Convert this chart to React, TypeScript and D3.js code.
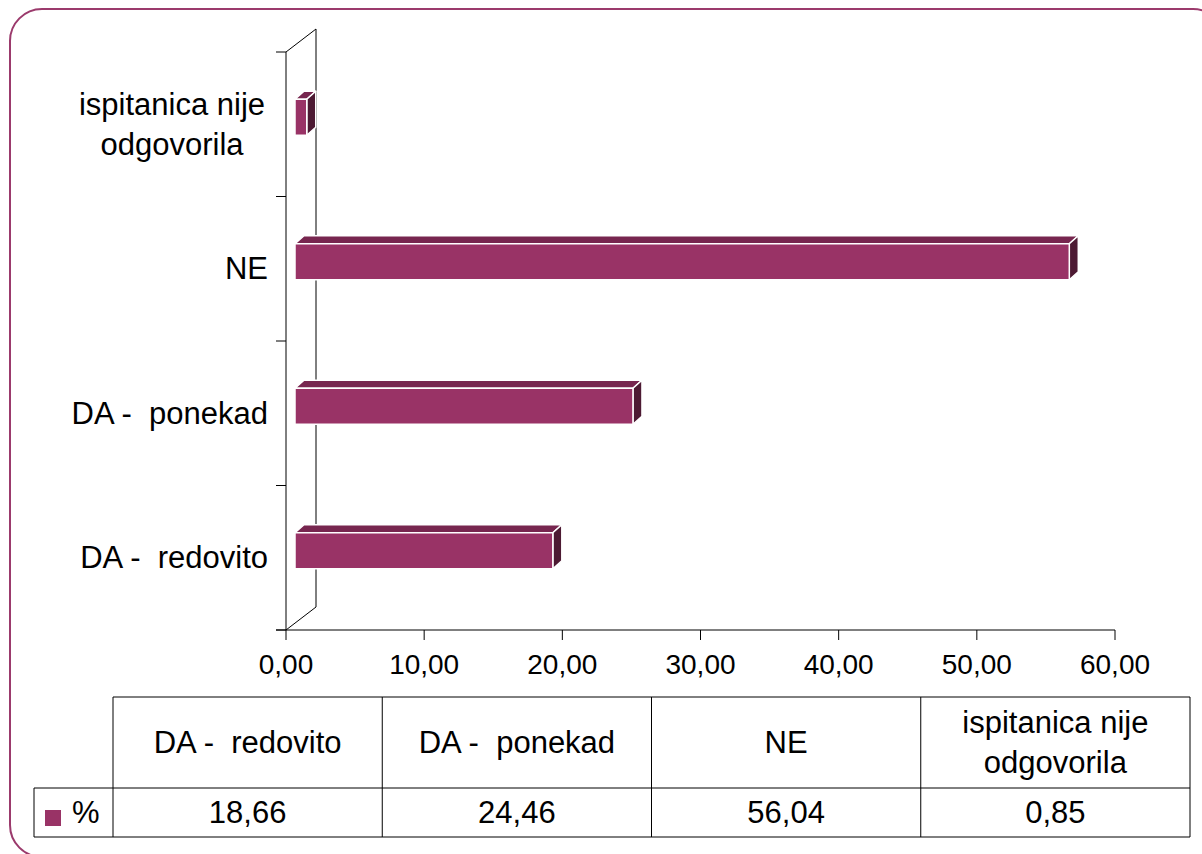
import React from "react";
import * as d3 from "d3";

const categories: string[][] = [
  ["DA -  redovito"],
  ["DA -  ponekad"],
  ["NE"],
  ["ispitanica nije", "odgovorila"],
];
const values: number[] = [18.66, 24.46, 56.04, 0.85];
const xTicks: number[] = [0, 10, 20, 30, 40, 50, 60];
const seriesName = "%";

const W = 1202;
const H = 854;
const FONT = "'Liberation Sans', Arial, sans-serif";
const FS = 31;
const FS_TICK = 28;
const PLUM = "#993366";
const PLUM_TOP = "#77264f";
const PLUM_SIDE = "#4d1a33";

const fmt = (v: number) => d3.format(".2f")(v).replace(".", ",");

export default function App() {
  const x = d3.scaleLinear().domain([0, 60]).range([286, 1115]);
  const y = d3
    .scaleBand<number>()
    .domain(d3.range(categories.length))
    .range([630, 52])
    .paddingInner(0)
    .paddingOuter(0);

  // 3D depth
  const wallDx = 30;
  const wallDy = -23;
  const barOffX = 9;
  const barOffY = -7;
  const depthDx = 9;
  const depthDy = -8;
  const barH = 36;

  const x0 = x(0);
  const yTop = 52;
  const yBot = 630;

  const bandTicks = d3.range(categories.length + 1).map((i) =>
    i < categories.length ? (y(i) as number) + y.bandwidth() : 52
  );

  // table
  const tblLeft = 34;
  const tblColStart = 113;
  const tblRight = 1190;
  const tblTop = 697;
  const tblMid = 788;
  const tblBot = 837;
  const colX = d3
    .scaleBand<number>()
    .domain(d3.range(categories.length))
    .range([tblColStart, tblRight]);

  const pre = { whiteSpace: "pre" as const };

  return (
    <svg width={W} height={H} style={{ position: "absolute", left: 0, top: 0 }} fontFamily={FONT}>
      <rect x={0} y={0} width={W} height={H} fill="#fff" />
      <rect
        x={10}
        y={9}
        width={1215}
        height={848}
        rx={32}
        ry={32}
        fill="#fff"
        stroke="#9b3a6c"
        strokeWidth={2}
      />

      {/* back wall edges */}
      <line x1={x0 + wallDx} y1={yTop + wallDy} x2={x0 + wallDx} y2={yBot + wallDy} stroke="#000" strokeWidth={1} />
      <line x1={x0} y1={yTop} x2={x0 + wallDx} y2={yTop + wallDy} stroke="#000" strokeWidth={1} />
      <line x1={x0} y1={yBot} x2={x0 + wallDx} y2={yBot + wallDy} stroke="#000" strokeWidth={1} />

      {/* bars */}
      {values.map((v, i) => {
        const cy = (y(i) as number) + y.bandwidth() / 2 + barOffY;
        const bx0 = x0 + barOffX;
        const bx1 = x(v) + barOffX;
        const t = cy - barH / 2;
        const b = cy + barH / 2;
        const top = `${bx0},${t} ${bx0 + depthDx},${t + depthDy} ${bx1 + depthDx},${t + depthDy} ${bx1},${t}`;
        const side = `${bx1},${t} ${bx1 + depthDx},${t + depthDy} ${bx1 + depthDx},${b + depthDy} ${bx1},${b}`;
        return (
          <g key={i}>
            <polygon points={top} fill={PLUM_TOP} stroke="#fff" strokeWidth={1.5} strokeLinejoin="round" />
            <polygon points={side} fill={PLUM_SIDE} stroke="#fff" strokeWidth={1.5} strokeLinejoin="round" />
            <rect x={bx0} y={t} width={bx1 - bx0} height={barH} fill={PLUM} stroke="#fff" strokeWidth={1.5} />
          </g>
        );
      })}

      {/* front vertical axis */}
      <line x1={x0} y1={yTop} x2={x0} y2={yBot} stroke="#000" strokeWidth={1} />
      {bandTicks.map((ty, i) => (
        <line key={i} x1={x0 - 10} y1={ty} x2={x0} y2={ty} stroke="#000" strokeWidth={1} />
      ))}

      {/* category labels */}
      {categories.map((lines, i) => {
        const cy = (y(i) as number) + y.bandwidth() / 2;
        if (lines.length === 1) {
          return (
            <text key={i} x={268} y={cy} textAnchor="end" dominantBaseline="central" fontSize={FS} fill="#000" style={pre}>
              {lines[0]}
            </text>
          );
        }
        const lh = 40;
        return (
          <text key={i} x={172} textAnchor="middle" fontSize={FS} fill="#000" style={pre}>
            {lines.map((ln, j) => (
              <tspan key={j} x={172} y={cy + (j - (lines.length - 1) / 2) * lh} dominantBaseline="central">
                {ln}
              </tspan>
            ))}
          </text>
        );
      })}

      {/* x axis */}
      <line x1={x0 - 10} y1={yBot} x2={x(60)} y2={yBot} stroke="#000" strokeWidth={1} />
      {xTicks.map((t) => (
        <g key={t}>
          <line x1={x(t)} y1={yBot} x2={x(t)} y2={yBot + 10} stroke="#000" strokeWidth={1} />
          <text x={x(t)} y={664} textAnchor="middle" dominantBaseline="central" fontSize={FS_TICK} fill="#000">
            {fmt(t)}
          </text>
        </g>
      ))}

      {/* data table */}
      <g stroke="#000" strokeWidth={1} fill="none">
        <line x1={tblColStart} y1={tblTop} x2={tblRight} y2={tblTop} />
        <line x1={tblLeft} y1={tblMid} x2={tblRight} y2={tblMid} />
        <line x1={tblLeft} y1={tblBot} x2={tblRight} y2={tblBot} />
        <line x1={tblLeft} y1={tblMid} x2={tblLeft} y2={tblBot} />
        <line x1={tblColStart} y1={tblTop} x2={tblColStart} y2={tblBot} />
        {categories.map((_, i) => (
          <line
            key={i}
            x1={(colX(i) as number) + colX.bandwidth()}
            y1={tblTop}
            x2={(colX(i) as number) + colX.bandwidth()}
            y2={tblBot}
          />
        ))}
      </g>
      {categories.map((lines, i) => {
        const cx = (colX(i) as number) + colX.bandwidth() / 2;
        const cy = (tblTop + tblMid) / 2;
        const lh = 40;
        return (
          <g key={i}>
            <text textAnchor="middle" fontSize={FS} fill="#000" style={pre}>
              {lines.map((ln, j) => (
                <tspan key={j} x={cx} y={cy + (j - (lines.length - 1) / 2) * lh} dominantBaseline="central">
                  {ln}
                </tspan>
              ))}
            </text>
            <text x={cx} y={(tblMid + tblBot) / 2} textAnchor="middle" dominantBaseline="central" fontSize={FS} fill="#000">
              {values[i].toFixed(2).replace(".", ",")}
            </text>
          </g>
        );
      })}
      <rect x={45} y={810} width={16} height={16} fill={PLUM} />
      <text x={72} y={(tblMid + tblBot) / 2} dominantBaseline="central" fontSize={FS} fill="#000">
        {seriesName}
      </text>
    </svg>
  );
}
